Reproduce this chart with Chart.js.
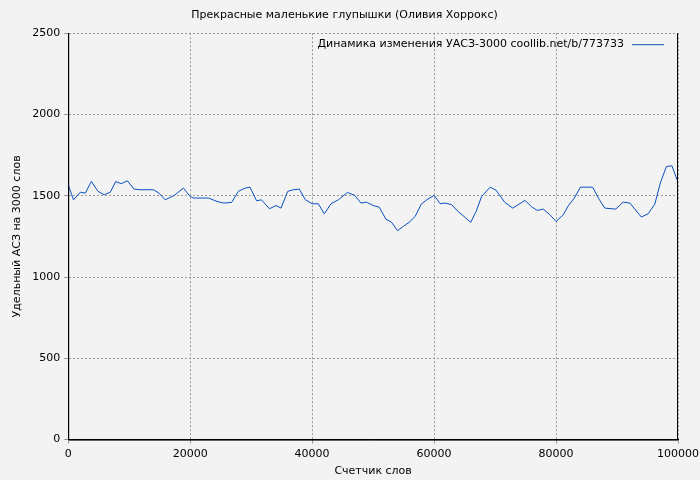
<!DOCTYPE html>
<html>
<head>
<meta charset="utf-8">
<script src="https://cdn.jsdelivr.net/npm/chart.js@4"></script>
<style>
  html, body { margin: 0; padding: 0; background: #f3f3f3; }
  #wrap { width: 700px; height: 480px; }
</style>
</head>
<body>
<div id="wrap"><canvas id="c"></canvas></div>
<script>
const words = [0, 870, 2000, 2800, 3800, 4900, 5900, 6900, 7800, 8700, 9700, 10800, 11800, 14000, 14900, 15900, 17300, 18900, 19900, 20500, 21300, 23000, 24400, 25500, 26800, 27900, 29000, 29800, 30900, 31700, 33000, 34100, 34900, 36000, 36900, 37900, 38900, 40000, 41000, 42000, 43100, 44300, 45800, 47000, 48000, 48900, 50000, 51000, 52100, 53000, 54000, 55000, 55900, 56900, 57900, 58800, 60000, 61000, 61800, 62900, 63900, 64900, 66000, 66900, 67800, 69200, 70200, 71600, 72900, 74900, 76000, 76900, 77900, 79000, 80000, 81200, 82000, 83000, 84000, 86000, 87000, 88000, 89800, 91000, 92100, 94000, 95100, 96200, 97100, 98100, 99000, 99900];
const asz = [1568, 1475, 1522, 1516, 1588, 1527, 1506, 1522, 1588, 1574, 1592, 1541, 1537, 1537, 1516, 1475, 1500, 1547, 1500, 1486, 1486, 1486, 1465, 1455, 1459, 1527, 1547, 1553, 1469, 1475, 1420, 1440, 1424, 1527, 1537, 1541, 1475, 1451, 1451, 1389, 1451, 1475, 1520, 1502, 1455, 1461, 1440, 1430, 1356, 1338, 1285, 1313, 1336, 1373, 1449, 1475, 1502, 1451, 1455, 1445, 1404, 1373, 1336, 1404, 1496, 1553, 1533, 1459, 1424, 1471, 1432, 1410, 1418, 1383, 1342, 1383, 1438, 1486, 1553, 1553, 1482, 1424, 1418, 1461, 1455, 1369, 1389, 1449, 1578, 1680, 1684, 1594];
const legendLabel = 'Динамика изменения УАСЗ-3000 coollib.net/b/773733';
const lineColor = '#0a4fbf';

const font = { family: 'DejaVu Sans', size: 11 };
Chart.defaults.color = '#000';

const insideLegend = {
  id: 'insideLegend',
  afterDraw(chart) {
    const { ctx, chartArea } = chart;
    ctx.save();
    ctx.font = '11px "DejaVu Sans"';
    ctx.fillStyle = '#000';
    ctx.textAlign = 'right';
    ctx.textBaseline = 'middle';
    const y = chartArea.top + 11;
    const lx2 = chartArea.right - 14, lx1 = lx2 - 32;
    ctx.fillText(legendLabel, lx1 - 8, y);
    ctx.strokeStyle = lineColor;
    ctx.lineWidth = 1;
    ctx.beginPath();
    ctx.moveTo(lx1, y + 0.5);
    ctx.lineTo(lx2, y + 0.5);
    ctx.stroke();
    ctx.restore();
  }
};

new Chart(document.getElementById('c'), {
  type: 'line',
  data: {
    datasets: [{
      label: legendLabel,
      data: words.map((w, i) => ({ x: w, y: asz[i] })),
      borderColor: lineColor,
      borderWidth: 1,
      pointRadius: 0,
      tension: 0,
      fill: false
    }]
  },
  options: {
    responsive: true,
    maintainAspectRatio: false,
    animation: false,
    layout: { padding: { top: 0, right: 22, bottom: 2, left: 11 } },
    plugins: {
      legend: { display: false },
      tooltip: { enabled: false },
      title: {
        display: true,
        text: 'Прекрасные маленькие глупышки (Оливия Хоррокс)',
        font: { family: 'DejaVu Sans', size: 11, weight: 'normal' },
        padding: { top: 9, bottom: 11 }
      }
    },
    scales: {
      x: {
        type: 'linear',
        min: 0, max: 100000,
        afterFit(scale) { scale.paddingRight = 0; scale.paddingLeft = 0; },
        ticks: { stepSize: 20000, font: font, maxRotation: 0, padding: 4, callback: v => String(v) },
        grid: { color: '#999', tickLength: 4, drawOnChartArea: true },
        border: { color: '#000', dash: [2, 2] },
        title: { display: true, text: 'Счетчик слов', font: font, padding: { top: 0, bottom: 0 } }
      },
      y: {
        min: 0, max: 2500,
        ticks: { stepSize: 500, font: font, padding: 4, callback: v => String(v) },
        grid: { color: '#999', tickLength: 4 },
        border: { color: '#000', dash: [2, 2] },
        title: { display: true, text: 'Удельный АСЗ на 3000 слов', font: font, padding: { top: 0, bottom: 4 } }
      }
    }
  },
  plugins: [insideLegend, {
    id: 'frame',
    beforeDraw(chart) {
      const { ctx, width, height } = chart;
      ctx.save();
      ctx.fillStyle = '#f3f3f3';
      ctx.fillRect(0, 0, width, height);
      ctx.restore();
    },
    afterDatasetsDraw(chart) {
      const { ctx, chartArea: a } = chart;
      ctx.save();
      ctx.strokeStyle = '#000';
      ctx.lineWidth = 1;
      ctx.beginPath();
      ctx.moveTo(a.left + 0.5, a.top);
      ctx.lineTo(a.left + 0.5, a.bottom + 0.5);
      ctx.lineTo(a.right, a.bottom + 0.5);
      ctx.moveTo(a.right - 0.5, a.top);
      ctx.lineTo(a.right - 0.5, a.bottom);
      ctx.stroke();
      ctx.restore();
    }
  }]
});
</script>
</body>
</html>
